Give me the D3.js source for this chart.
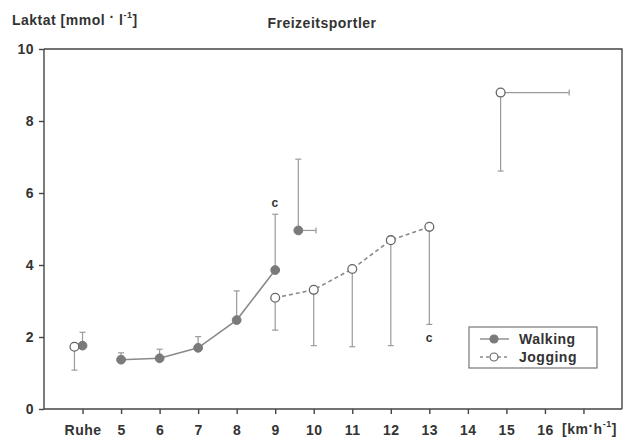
<!DOCTYPE html>
<html>
<head>
<meta charset="utf-8">
<script src="https://cdn.jsdelivr.net/npm/d3@7"></script>
<style>
  body { margin: 0; background: #fff; }
  svg { font-family: "Liberation Sans", Arial, sans-serif; }
  svg text { font-weight: bold; letter-spacing: 0.5px; fill: #333; }
  .axis path, .axis line { stroke: #444; stroke-width: 1.4; }
  .axis text { font-size: 14px; }
</style>
</head>
<body>
<script>
// data (lactate in mmol/l, speed in km/h; 4 = "Ruhe")
var walkSpeed = [4, 5, 6, 7, 8, 9];
var walkMean  = [1.76, 1.37, 1.41, 1.70, 2.47, 3.86];
var walkUpper = [2.13, 1.56, 1.66, 2.01, 3.28, 5.41];

var jogSpeed = [9, 10, 11, 12, 13];
var jogMean  = [3.09, 3.31, 3.89, 4.69, 5.06];
var jogLower = [2.19, 1.76, 1.73, 1.76, 2.35];

// resting jogging value (slightly left of "Ruhe")
var jogRest = [{x: 3.79, y: 1.73, lo: 1.08}];

// maximal values with speed spread
var walkMax = [{x: 9.6, y: 4.96, hi: 6.94, xhi: 10.06}];
var jogMax  = [{x: 14.85, y: 8.79, lo: 6.61, xhi: 16.63}];

var xTicks = [4, 5, 6, 7, 8, 9, 10, 11, 12, 13, 14, 15, 16, 17];
var xTickLabels = ["Ruhe", "5", "6", "7", "8", "9", "10", "11", "12", "13", "14", "15", "16", ""];
var yTicks = [0, 2, 4, 6, 8, 10];

(function(){
  var width = 626, height = 440;
  var left = 44, right = 622, top = 49, bottom = 409;

  var svg = d3.select("body").append("svg")
      .attr("width", width)
      .attr("height", height);

  var x = d3.scaleLinear().domain([3, 18]).range([left, right]);
  var y = d3.scaleLinear().domain([0, 10]).range([bottom, top]);

  var errColor = "#9a9a9a", lineColor = "#8a8a8a", dotColor = "#7a7a7a";

  //frame (top and right)
  svg.append("path")
      .attr("d", "M" + left + "," + top + "H" + right + "V" + bottom)
      .attr("fill", "none")
      .attr("stroke", "#444")
      .attr("stroke-width", 1.4);

  //axes
  svg.append("g")
      .attr("class", "axis")
      .attr("transform", "translate(0," + bottom + ")")
      .call(d3.axisBottom(x).tickValues(xTicks).tickSize(5).tickPadding(11)
        .tickFormat(function(d, i){ return xTickLabels[i]; }))
      .call(function(g){ g.select(".domain").attr("d", "M" + left + ",0H" + right); });

  svg.append("g")
      .attr("class", "axis")
      .attr("transform", "translate(" + left + ",0)")
      .call(d3.axisLeft(y).tickValues(yTicks).tickSize(5).tickPadding(5))
      .call(function(g){ g.select(".domain").attr("d", "M0," + top + "V" + bottom); });

  //unit label on x axis
  var unit = svg.append("text")
      .attr("x", 562)
      .attr("y", bottom + 25)
      .style("font-size", "14px");
  unit.append("tspan").text("[km");
  unit.append("tspan").text("·").attr("dy", -3);
  unit.append("tspan").text("h").attr("dy", 3);
  unit.append("tspan").text("-1").attr("dy", -7).style("font-size", "9px");
  unit.append("tspan").text("]").attr("dy", 7);

  //y label
  var yl = svg.append("text")
      .attr("x", 12)
      .attr("y", 25)
      .style("font-size", "14px");
  yl.append("tspan").text("Laktat [mmol ");
  yl.append("tspan").text("·").attr("dy", -3);
  yl.append("tspan").text(" l").attr("dy", 3);
  yl.append("tspan").text("-1").attr("dy", -7).style("font-size", "9px");
  yl.append("tspan").text("]").attr("dy", 7);

  //title
  svg.append("text")
      .attr("x", 322)
      .attr("y", 28)
      .attr("text-anchor", "middle")
      .style("font-size", "14px")
      .text("Freizeitsportler");

  //vertical error bar helper
  function vbar(cx, y1, y2){
    svg.append("line")
        .attr("x1", x(cx)).attr("x2", x(cx))
        .attr("y1", y(y1)).attr("y2", y(y2))
        .attr("stroke", errColor).attr("stroke-width", 1.2);
    svg.append("line")
        .attr("x1", x(cx) - 3).attr("x2", x(cx) + 3)
        .attr("y1", y(y2)).attr("y2", y(y2))
        .attr("stroke", errColor).attr("stroke-width", 1.2);
  }
  function hbar(cy, x1, x2){
    svg.append("line")
        .attr("x1", x(x1)).attr("x2", x(x2))
        .attr("y1", y(cy)).attr("y2", y(cy))
        .attr("stroke", errColor).attr("stroke-width", 1.2);
    svg.append("line")
        .attr("x1", x(x2)).attr("x2", x(x2))
        .attr("y1", y(cy) - 3).attr("y2", y(cy) + 3)
        .attr("stroke", errColor).attr("stroke-width", 1.2);
  }

  //error bars
  walkSpeed.forEach(function(s, i){ vbar(s, walkMean[i], walkUpper[i]); });
  jogSpeed.forEach(function(s, i){ vbar(s, jogMean[i], jogLower[i]); });
  jogRest.forEach(function(d){ vbar(d.x, d.y, d.lo); });
  walkMax.forEach(function(d){ vbar(d.x, d.y, d.hi); hbar(d.y, d.x, d.xhi); });
  jogMax.forEach(function(d){ vbar(d.x, d.y, d.lo); hbar(d.y, d.x, d.xhi); });

  //lines
  var line = d3.line()
      .x(function(d){ return x(d[0]); })
      .y(function(d){ return y(d[1]); });

  svg.append("path")
      .datum(d3.zip(walkSpeed.slice(1), walkMean.slice(1)))
      .attr("d", line)
      .attr("fill", "none")
      .attr("stroke", lineColor)
      .attr("stroke-width", 1.6);

  svg.append("path")
      .datum(d3.zip(jogSpeed, jogMean))
      .attr("d", line)
      .attr("fill", "none")
      .attr("stroke", lineColor)
      .attr("stroke-width", 1.6)
      .attr("stroke-dasharray", "4,3");

  //markers
  var walkPts = d3.zip(walkSpeed, walkMean).concat(walkMax.map(function(d){ return [d.x, d.y]; }));
  svg.selectAll(".walk")
      .data(walkPts)
      .enter()
      .append("circle")
      .attr("class", "walk")
      .attr("cx", function(d){ return x(d[0]); })
      .attr("cy", function(d){ return y(d[1]); })
      .attr("r", 4.4)
      .attr("fill", dotColor)
      .attr("stroke", dotColor);

  var jogPts = d3.zip(jogSpeed, jogMean)
      .concat(jogRest.map(function(d){ return [d.x, d.y]; }))
      .concat(jogMax.map(function(d){ return [d.x, d.y]; }));
  svg.selectAll(".jog")
      .data(jogPts)
      .enter()
      .append("circle")
      .attr("class", "jog")
      .attr("cx", function(d){ return x(d[0]); })
      .attr("cy", function(d){ return y(d[1]); })
      .attr("r", 4.4)
      .attr("fill", "#fff")
      .attr("stroke", "#666")
      .attr("stroke-width", 1.3);

  //"c" annotations
  svg.append("text")
      .attr("x", x(9)).attr("y", y(5.41) - 7)
      .attr("text-anchor", "middle")
      .style("font-size", "12px")
      .text("c");
  svg.append("text")
      .attr("x", x(13)).attr("y", y(2.35) + 18)
      .attr("text-anchor", "middle")
      .style("font-size", "12px")
      .text("c");

  //legend
  var lg = svg.append("g").attr("transform", "translate(469,327)");
  lg.append("rect")
      .attr("width", 128).attr("height", 41)
      .attr("fill", "#fff")
      .attr("stroke", "#777").attr("stroke-width", 1.2);
  var items = [
    {name: "Walking", dash: null, fill: dotColor, stroke: dotColor},
    {name: "Jogging", dash: "3,3", fill: "#fff", stroke: "#666"}
  ];
  items.forEach(function(it, i){
    var yy = 12 + i * 18;
    lg.append("line")
        .attr("x1", 11).attr("x2", 40).attr("y1", yy).attr("y2", yy)
        .attr("stroke", lineColor).attr("stroke-width", 1.4)
        .attr("stroke-dasharray", it.dash);
    lg.append("circle")
        .attr("cx", 25).attr("cy", yy).attr("r", 4)
        .attr("fill", it.fill).attr("stroke", it.stroke).attr("stroke-width", 1.2);
    lg.append("text")
        .attr("x", 50).attr("y", yy + 5)
        .style("font-size", "14px")
        .text(it.name);
  });
})();
</script>
</body>
</html>
